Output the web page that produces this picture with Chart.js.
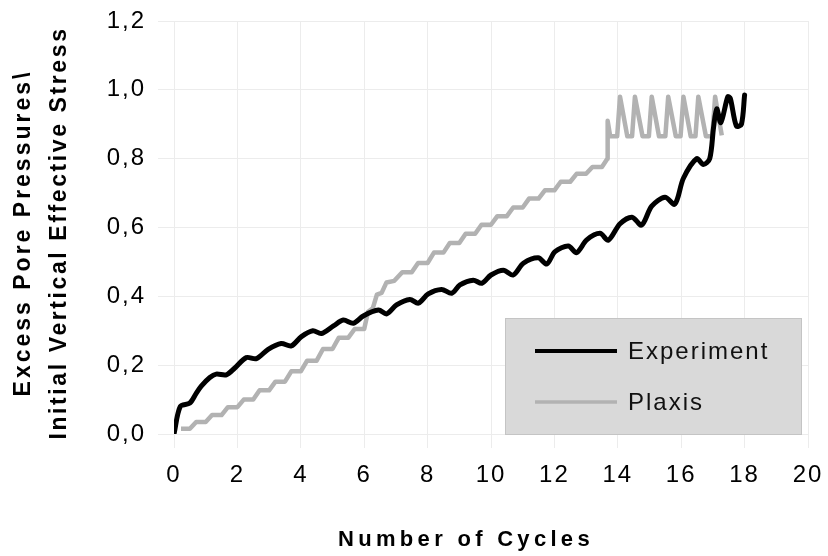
<!DOCTYPE html>
<html>
<head>
<meta charset="utf-8">
<script src="https://cdn.jsdelivr.net/npm/chart.js@4.4.0/dist/chart.umd.min.js"></script>
<style>
  html, body { margin: 0; padding: 0; background: #fff; }
  #wrap { width: 828px; height: 556px; }
</style>
</head>
<body>
<div id="wrap"><canvas id="cycleChart"></canvas></div>
<script>
// values
const seriesNames = ['Experiment', 'Plaxis'];

const expX = [0, 0.2, 0.5, 0.7, 0.86, 1.13, 1.33, 1.65, 1.91, 2.28,
  2.6, 2.97, 3.38, 3.7, 4.02, 4.38, 4.65, 5.03, 5.34, 5.66,
  5.97, 6.45, 6.71, 7.02, 7.44, 7.71, 8.02, 8.44, 8.76, 9.02,
  9.44, 9.71, 10.0, 10.39, 10.7, 11.02, 11.49, 11.76, 12.02, 12.44,
  12.7, 13.02, 13.44, 13.7, 14.07, 14.45, 14.75, 15.07, 15.49, 15.8,
  16.07, 16.49, 16.7, 16.9, 17.02, 17.12, 17.25, 17.47, 17.55, 17.74,
  17.9, 18.0];
const expY = [0, 0.08, 0.09, 0.118, 0.139, 0.164, 0.174, 0.172, 0.191, 0.222,
  0.219, 0.246, 0.263, 0.256, 0.283, 0.3, 0.292, 0.314, 0.331, 0.322,
  0.343, 0.36, 0.349, 0.375, 0.391, 0.38, 0.407, 0.42, 0.409, 0.433,
  0.447, 0.438, 0.462, 0.476, 0.462, 0.496, 0.512, 0.494, 0.53, 0.546,
  0.527, 0.564, 0.583, 0.563, 0.611, 0.63, 0.607, 0.662, 0.688, 0.668,
  0.743, 0.8, 0.783, 0.8, 0.89, 0.945, 0.905, 0.98, 0.975, 0.895,
  0.9, 0.985];

const plaxisX = [0.22, 0.5, 0.7, 1.0, 1.2, 1.5, 1.7, 2.0, 2.2, 2.5,
  2.7, 3.0, 3.2, 3.5, 3.7, 4.0, 4.2, 4.5, 4.7, 5.0,
  5.2, 5.5, 5.7, 6.0, 6.12, 6.27, 6.4, 6.55, 6.7, 6.95,
  7.2, 7.5, 7.7, 8.0, 8.2, 8.5, 8.7, 9.0, 9.2, 9.5,
  9.7, 10.0, 10.2, 10.5, 10.7, 11.0, 11.2, 11.5, 11.7, 12.0,
  12.2, 12.5, 12.7, 13.0, 13.2, 13.5, 13.67, 13.68, 13.76, 13.98,
  14.07, 14.3, 14.45, 14.54, 14.78, 14.98, 15.07, 15.3, 15.5, 15.59,
  15.83, 15.98, 16.07, 16.3, 16.45, 16.54, 16.78, 16.98, 17.07, 17.28];
const plaxisY = [0.015, 0.015, 0.035, 0.035, 0.055, 0.055, 0.078, 0.078, 0.1, 0.1,
  0.127, 0.127, 0.152, 0.152, 0.182, 0.182, 0.213, 0.213, 0.247, 0.247,
  0.28, 0.28, 0.305, 0.305, 0.355, 0.365, 0.405, 0.41, 0.44, 0.445,
  0.47, 0.47, 0.497, 0.497, 0.527, 0.527, 0.555, 0.555, 0.582, 0.582,
  0.608, 0.608, 0.633, 0.633, 0.658, 0.658, 0.684, 0.684, 0.708, 0.708,
  0.733, 0.733, 0.756, 0.756, 0.776, 0.776, 0.8, 0.91, 0.865, 0.865,
  0.98, 0.865, 0.865, 0.98, 0.865, 0.865, 0.98, 0.865, 0.865, 0.98,
  0.865, 0.865, 0.98, 0.865, 0.865, 0.98, 0.865, 0.865, 0.98, 0.868];

const xTicks = [0, 2, 4, 6, 8, 10, 12, 14, 16, 18, 20];
const yTicks = [0, 0.2, 0.4, 0.6, 0.8, 1.0, 1.2];
const xTitle = 'Number of Cycles';
const yTitle = ['Excess Pore Pressures\\', 'Initial Vertical Effective Stress'];

const FONT = '"Liberation Sans", Arial, sans-serif';
const lineColors = ['#000000', '#b2b2b2'];

const toPoints = (xs, ys) => xs.map((x, i) => ({ x: x, y: ys[i] }));

// the reference text is set with wide tracking
const spacing = {
    id: 'spacing',
    beforeLayout(chart) { chart.ctx.letterSpacing = '2px'; },
    beforeDraw(chart) { chart.ctx.letterSpacing = '2px'; }
};

// axis titles, placed as in the picture
const titles = {
    id: 'titles',
    afterDraw(chart) {
        const ctx = chart.ctx;
        const area = chart.chartArea;
        ctx.save();
        ctx.fillStyle = '#000';
        ctx.textAlign = 'center';
        ctx.textBaseline = 'middle';
        ctx.font = 'bold 22px ' + FONT;
        ctx.letterSpacing = '4.3px';
        ctx.fillText(xTitle, area.left + 292, 540);

        ctx.font = 'bold 23px ' + FONT;
        ctx.translate(0, area.top + 212);
        ctx.rotate(-Math.PI / 2);
        ctx.letterSpacing = '3px';
        ctx.fillText(yTitle[0], 0, 24);
        ctx.letterSpacing = '2.6px';
        ctx.fillText(yTitle[1], 0, 60);
        ctx.restore();
    }
};

// grey legend box inside the plot
const boxLegend = {
    id: 'boxLegend',
    afterDraw(chart) {
        const ctx = chart.ctx;
        const area = chart.chartArea;
        const left = area.right - 303;
        const top = area.bottom - 116;
        ctx.save();
        ctx.fillStyle = '#d9d9d9';
        ctx.strokeStyle = '#c4c4c4';
        ctx.lineWidth = 1;
        ctx.fillRect(left, top, 297, 117);
        ctx.strokeRect(left + 0.5, top + 0.5, 296, 116);

        ctx.font = '24px ' + FONT;
        ctx.letterSpacing = '2px';
        ctx.textAlign = 'left';
        ctx.textBaseline = 'middle';
        chart.data.datasets.forEach((ds, i) => {
            const y = top + 33 + i * 51;
            ctx.strokeStyle = ds.borderColor;
            ctx.lineWidth = i === 0 ? 4 : 3.5;
            ctx.beginPath();
            ctx.moveTo(left + 30, y);
            ctx.lineTo(left + 112, y);
            ctx.stroke();
            ctx.fillStyle = '#111';
            ctx.fillText(ds.label, left + 123, y + 1);
        });
        ctx.restore();
    }
};

const ctx = document.getElementById('cycleChart');

new Chart(ctx, {
    type: 'line',
    data: {
        datasets: [{
            label: seriesNames[0],
            data: toPoints(expX, expY),
            borderColor: lineColors[0],
            borderWidth: 5,
            tension: 0.3,
            pointRadius: 0,
            borderJoinStyle: 'round',
            borderCapStyle: 'round'
        }, {
            label: seriesNames[1],
            data: toPoints(plaxisX, plaxisY),
            borderColor: lineColors[1],
            borderWidth: 4.5,
            tension: 0,
            pointRadius: 0,
            borderJoinStyle: 'round'
        }]
    },
    options: {
        responsive: true,
        maintainAspectRatio: false,
        animation: false,
        layout: { padding: { top: 21, right: 20, left: 0, bottom: 0 } },
        plugins: {
            legend: { display: false },
            tooltip: { enabled: false }
        },
        scales: {
            x: {
                type: 'linear',
                min: xTicks[0],
                max: xTicks[xTicks.length - 1],
                afterBuildTicks: (scale) => { scale.ticks = xTicks.map(v => ({ value: v })); },
                afterFit: (scale) => {
                    scale.height = 122;
                    scale.paddingLeft = 0;
                    scale.paddingRight = 0;
                },
                grid: { color: '#ececec', lineWidth: 1, tickLength: 14 },
                border: { display: false },
                ticks: {
                    color: '#000',
                    padding: 13,
                    maxRotation: 0,
                    font: { family: FONT, size: 24 }
                }
            },
            y: {
                min: yTicks[0],
                max: yTicks[yTicks.length - 1],
                afterBuildTicks: (scale) => { scale.ticks = yTicks.map(v => ({ value: v })); },
                afterFit: (scale) => {
                    scale.width = 174;
                    scale.paddingTop = 0;
                    scale.paddingBottom = 0;
                },
                grid: { color: '#ececec', lineWidth: 1, tickLength: 16 },
                border: { display: false },
                ticks: {
                    color: '#000',
                    padding: 12,
                    font: { family: FONT, size: 24 },
                    callback: (value) => value.toFixed(1).replace('.', ',')
                }
            }
        }
    },
    plugins: [spacing, titles, boxLegend]
});
</script>
</body>
</html>
